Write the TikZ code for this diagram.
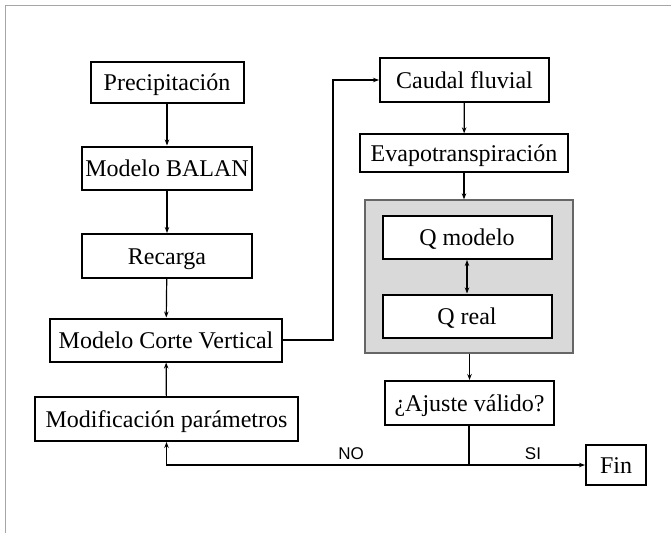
\documentclass[tikz,border=0pt]{standalone}
\usepackage{fontspec}
\setmainfont{Liberation Serif}
\newfontfamily\rotulo{Liberation Sans}
\usetikzlibrary{arrows.meta}

\tikzset{
  caja/.style={draw, line width=2pt, fill=white, minimum height=43pt, inner sep=1pt,
    text height=18pt, text depth=2pt, font=\fontsize{24}{26}\selectfont},
  flecha/.style={-{Stealth[length=6pt,width=4.5pt]}, line width=1.2pt},
  rotulos/.style={font=\rotulo\fontsize{17}{18}\selectfont}
}

\begin{document}
\begin{tikzpicture}[x=1pt, y=-1pt]
    % Page size of the reference (pixels as points, y grows downward)
    \useasboundingbox (0,0) rectangle (671,533);
    \draw[gray!70, line width=1pt] (5,533) -- (5,5) -- (671,5);

    % Left column
    \node (precip) at (167,82.5) [caja, minimum width=153pt, minimum height=41pt] {Precipitación};
    \node (balan) at (167,168) [caja, minimum width=170pt] {Modelo BALAN};
    \node (recarga) at (167,256) [caja, minimum width=170pt, minimum height=44pt] {Recarga};
    \node (corte) at (166,340) [caja, minimum width=232pt] {Modelo Corte Vertical};
    \node (modif) at (166.5,419) [caja, minimum width=263pt, minimum height=44pt] {Modificación parámetros};

    % Right column
    \node (caudal) at (464.5,80) [caja, minimum width=169pt, minimum height=44pt] {Caudal fluvial};
    \node (evapo) at (464,153) [caja, line width=1.3pt, minimum width=208pt, minimum height=38pt] {Evapotranspiración};
    \node (grupo) at (469,276.5) [draw=gray!80!black, line width=1.3pt, fill=gray!30,
      minimum width=208pt, minimum height=153pt] {};
    \node (qmodelo) at (467,237.5) [caja, minimum width=169pt] {Q modelo};
    \node (qreal) at (467,316) [caja, minimum width=169pt] {Q real};
    \node (ajuste) at (469.5,403) [caja, minimum width=169pt, minimum height=44pt] {¿Ajuste válido?};
    \node (fin) at (616,465) [caja, minimum width=60pt, minimum height=40pt] {Fin};

    % Connectors
    \draw[flecha] (precip) -- (balan);
    \draw[flecha] (balan) -- (recarga);
    \draw[flecha] (recarga) -- (corte);
    \draw[flecha] (modif) -- (corte);
    \draw[flecha] (corte.east) -- ++(50,0) |- (caudal.west);
    \draw[flecha] (caudal) -- (evapo);
    \draw[flecha] (evapo.south) -- (evapo.south |- grupo.north);
    \draw[flecha, {Stealth[length=6pt,width=4.5pt]}-{Stealth[length=6pt,width=4.5pt]}] (qmodelo) -- (qreal);
    \draw[flecha] (ajuste.north |- grupo.south) -- (ajuste.north);

    % Decision branches
    \coordinate (cruce) at (469,465);
    \draw[line width=1.2pt] (ajuste.south -| cruce) -- (cruce);
    \draw[flecha] (cruce) -| (modif.south);
    \draw[flecha] (cruce) -- (fin.west);
    \node (no) at (351,454) [rotulos] {NO};
    \node (si) at (533,454) [rotulos] {SI};
\end{tikzpicture}
\end{document}
